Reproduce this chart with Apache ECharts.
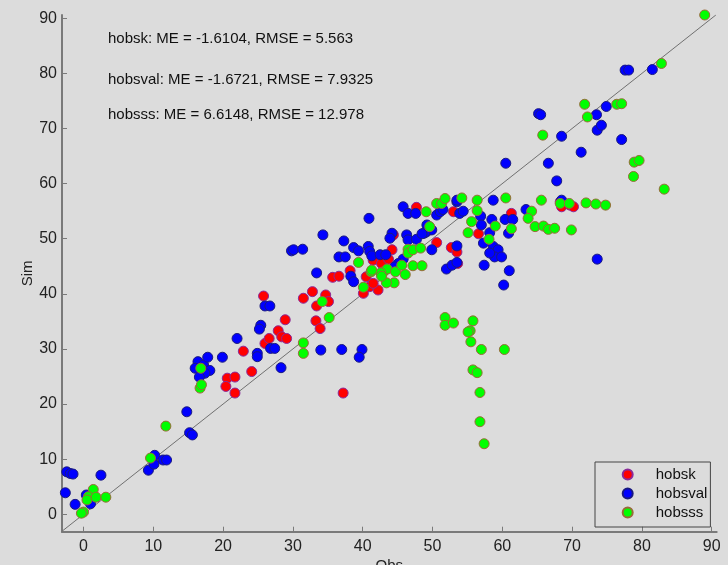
<!DOCTYPE html>
<html>
<head>
<meta charset="utf-8">
<script src="https://cdn.jsdelivr.net/npm/echarts@6/dist/echarts.min.js"></script>
<style>
  html, body { margin: 0; padding: 0; background: #dcdcdc; }
  #chart { width: 728px; height: 565px; }
</style>
</head>
<body>
<div id="chart"></div>
<script>
var hobskObs = [20.6, 21.7, 20.4, 21.7, 24.1, 22.9, 26.0, 26.6, 27.9, 28.4, 29.1, 28.9, 25.8,
    31.5, 32.8, 33.4, 34.7, 35.1, 33.3, 33.9, 37.2, 35.7, 36.6, 38.2,
    40.5, 41.0, 40.1, 42.2, 41.5, 41.5, 42.7, 43.7, 44.2, 44.4,
    47.7, 50.6, 52.7, 53.5, 53.6, 53.0, 56.6, 61.3, 68.3, 68.5, 69.7, 70.2];
var hobskSim = [24.7, 24.9, 23.2, 22.0, 25.9, 29.6, 31.0, 31.9, 33.3, 32.2, 31.9, 35.3, 39.6,
    39.2, 40.4, 37.8, 39.8, 38.6, 35.1, 33.7, 22.0, 43.0, 43.2, 44.2,
    43.1, 41.3, 40.1, 40.7, 41.9, 46.1, 45.5, 46.3, 48.0, 50.7,
    55.7, 49.3, 48.4, 47.6, 45.5, 54.9, 50.9, 54.6, 56.7, 55.8, 56.1, 55.8];

var hobsvalObs = [-3.1, -2.6, -1.2, 0.4, 1.0, -2.4, -1.9, -1.5, 2.5,
    9.3, 10.1, 10.2, 11.4, 11.9, 15.2, 15.6, 14.8,
    16.4, 17.2, 16.0, 16.9, 18.1, 17.4, 16.6,
    17.8, 19.9, 22.0, 24.9, 24.9, 25.4, 25.2, 26.0, 26.7, 26.8, 27.4, 28.3,
    29.8, 30.1, 31.4, 33.4, 34.3, 37.3, 38.7, 39.4, 36.6, 37.5, 38.3, 38.7,
    34.0, 37.0, 39.9, 39.5,
    40.9, 40.8, 41.0, 41.3, 42.5, 43.3, 44.2, 43.9, 46.3, 46.5, 47.7, 48.8, 49.2, 49.9,
    45.8, 45.1, 44.6, 45.8, 46.5, 47.6, 50.6, 51.1, 51.5,
    49.2, 48.9, 48.5, 49.9, 53.5, 52.0, 52.8, 53.5, 53.5, 53.9,
    53.5, 58.7, 54.4, 56.9, 58.5, 60.4, 61.5, 57.0, 58.2, 60.9,
    57.3, 58.7, 59.4, 58.9, 59.9, 58.2, 57.4, 61.0, 60.2,
    60.5, 66.6, 67.8, 63.4, 68.5,
    65.2, 65.5, 68.5, 71.3, 73.6, 74.2, 73.5, 74.9, 77.1, 73.6, 77.6, 78.1, 81.5];
var hobsvalSim = [0.1, 3.9, 1.8, 3.5, 1.9, 7.7, 7.4, 7.3, 7.1,
    8.0, 9.1, 10.7, 9.85, 9.85, 14.8, 14.4, 18.6,
    27.7, 27.1, 26.5, 26.5, 26.1, 25.6, 24.9,
    28.5, 28.5, 31.9, 29.2, 28.6, 34.3, 33.6, 37.8, 37.8, 30.1, 30.1, 26.6,
    47.8, 48.0, 48.1, 43.8, 50.7, 49.6, 48.4, 47.8, 46.7, 46.7, 43.2, 42.2,
    29.8, 29.9, 29.9, 28.5,
    53.7, 48.6, 47.7, 46.9, 47.1, 47.1, 51.0, 50.1, 50.7, 49.8, 49.9, 51.0, 51.3, 51.6,
    46.3, 45.5, 44.9, 55.8, 54.6, 54.6, 54.3, 54.9, 55.3,
    52.5, 51.1, 50.9, 48.0, 48.7, 44.5, 45.2, 45.7, 56.7, 54.6,
    57.0, 57.0, 55.0, 54.1, 53.5, 53.5, 53.5, 52.5, 51.1, 51.0,
    49.2, 48.6, 48.0, 46.7, 46.7, 47.4, 45.2, 44.2, 41.6,
    63.7, 63.7, 60.5, 55.3, 57.0,
    72.7, 72.5, 68.6, 65.7, 69.7, 70.6, 72.5, 74.0, 68.0, 46.3, 80.6, 80.6, 80.7];

var hobsssObs = [0.0, -0.3, 1.4, 0.7, 0.5, 1.8, 3.2,
    9.6, 11.8, 16.8, 16.7, 16.9, 31.5, 31.5, 34.2, 35.2, 39.4, 40.1,
    41.2, 43.0, 43.5, 44.5, 43.4, 44.7, 45.6, 47.2, 48.5, 46.1, 42.6, 41.3, 42.7,
    46.5, 46.5, 47.2, 48.3, 49.1, 49.6, 50.6, 51.3, 51.8,
    54.2, 56.4, 60.5, 56.4, 55.6, 59.0, 61.3, 55.1, 58.1,
    64.2, 65.6, 63.7, 64.7, 65.9, 66.6, 67.5, 69.9, 68.3, 69.6, 72.0, 73.4, 74.8,
    51.8, 51.8, 53.0, 55.8, 55.4, 55.1, 55.5, 57.0, 60.3, 55.8, 56.4, 56.8, 56.8, 57.4,
    65.8, 71.8, 72.2, 76.4, 77.1, 78.9, 79.6, 78.8, 83.2, 82.8, 89.0];
var hobsssSim = [0.4, 0.2, 4.5, 3.2, 2.6, 3.1, 3.1,
    10.2, 16.0, 26.5, 22.9, 23.5, 31.1, 29.2, 38.6, 35.7, 45.7, 41.2,
    44.0, 44.0, 44.5, 42.0, 42.0, 44.0, 45.2, 45.1, 45.1, 43.5, 43.8, 44.3, 43.2,
    48.1, 47.4, 48.0, 48.3, 54.9, 52.2, 56.4, 56.4, 57.3,
    57.4, 57.0, 57.4, 55.1, 53.1, 52.3, 51.8, 51.1, 49.9,
    55.0, 57.0, 53.7, 52.2, 52.3, 51.7, 51.9, 51.6, 56.4, 56.4, 56.5, 56.3, 56.1,
    35.7, 34.3, 34.7, 35.1, 33.3, 33.1, 31.3, 29.9, 29.9, 26.2, 25.7, 22.1, 16.8, 12.8,
    68.8, 74.4, 72.1, 74.4, 74.5, 63.9, 64.2, 61.3, 59.0, 81.8, 90.6];

var statLines = [
    'hobsk: ME = -1.6104, RMSE = 5.563',
    'hobsval: ME = -1.6721, RMSE = 7.9325',
    'hobsss: ME = 6.6148, RMSE = 12.978'
];
var tickValues = [0, 10, 20, 30, 40, 50, 60, 70, 80, 90];
var oneToOne = [-3.1, 90.6];

function pairs(xs, ys) {
    var out = [];
    for (var i = 0; i < xs.length; i++) out.push([xs[i], ys[i]]);
    return out;
}

var font = "'Liberation Sans', Arial, sans-serif";

var axisCommon = {
    type: 'value',
    nameLocation: 'middle',
    nameMoveOverlap: false,
    nameTextStyle: {color: '#222', fontSize: 15, fontFamily: font},
    splitLine: {show: false},
    axisLine: {onZero: false, lineStyle: {color: '#7a7a7a', width: 2}},
    axisTick: {inside: true, length: 5, customValues: tickValues, lineStyle: {color: '#7a7a7a', width: 1}},
    axisLabel: {customValues: tickValues, color: '#222', fontSize: 16, fontFamily: font}
};

var myChart = echarts.init(document.getElementById('chart'));
myChart.setOption({
    backgroundColor: '#dcdcdc',
    animation: false,
    grid: {left: 62, right: 11.3, top: 15, bottom: 33.3, outerBoundsMode: 'none', containLabel: false},
    xAxis: Object.assign({}, axisCommon, {
        name: 'Obs', min: -3.08, max: 90.72, nameGap: 27,
        axisLabel: Object.assign({}, axisCommon.axisLabel, {margin: 7})
    }),
    yAxis: Object.assign({}, axisCommon, {
        name: 'Sim', min: -3.16, max: 90.6, nameGap: 27,
        axisLabel: Object.assign({}, axisCommon.axisLabel, {margin: 5})
    }),
    legend: {
        orient: 'vertical',
        left: 595,
        top: 462,
        padding: [3, 3, 5, 26.7],
        itemWidth: 10,
        itemHeight: 10,
        itemGap: 0,
        borderColor: '#444',
        borderWidth: 1,
        textStyle: {fontSize: 15, fontFamily: font, color: '#111', lineHeight: 19, padding: [0, 0, 0, 18]},
        data: ['hobsk', 'hobsval', 'hobsss']
    },
    graphic: statLines.map(function (t, i) {
        return {
            type: 'text',
            x: 108,
            y: [39.3, 80, 115][i],
            style: {text: t, font: '15px ' + font, fill: '#111', verticalAlign: 'middle'}
        };
    }),
    series: [
        {
            name: '1:1',
            type: 'line',
            data: [[oneToOne[0], oneToOne[0]], [oneToOne[1], oneToOne[1]]],
            symbol: 'none',
            lineStyle: {color: '#707070', width: 1},
            z: 1
        },
        {
            name: 'hobsk',
            type: 'scatter',
            data: pairs(hobskObs, hobskSim),
            symbolSize: 10,
            itemStyle: {color: '#ff0000', borderColor: '#8a2a9a', borderWidth: 1, opacity: 1},
            z: 2
        },
        {
            name: 'hobsval',
            type: 'scatter',
            data: pairs(hobsvalObs, hobsvalSim),
            symbolSize: 10,
            itemStyle: {color: '#0000ff', borderColor: '#1a1a80', borderWidth: 1, opacity: 1},
            z: 3
        },
        {
            name: 'hobsss',
            type: 'scatter',
            data: pairs(hobsssObs, hobsssSim),
            symbolSize: 10,
            itemStyle: {color: '#00ff00', borderColor: '#9a6a3a', borderWidth: 1, opacity: 1},
            z: 4
        }
    ]
});
</script>
</body>
</html>
